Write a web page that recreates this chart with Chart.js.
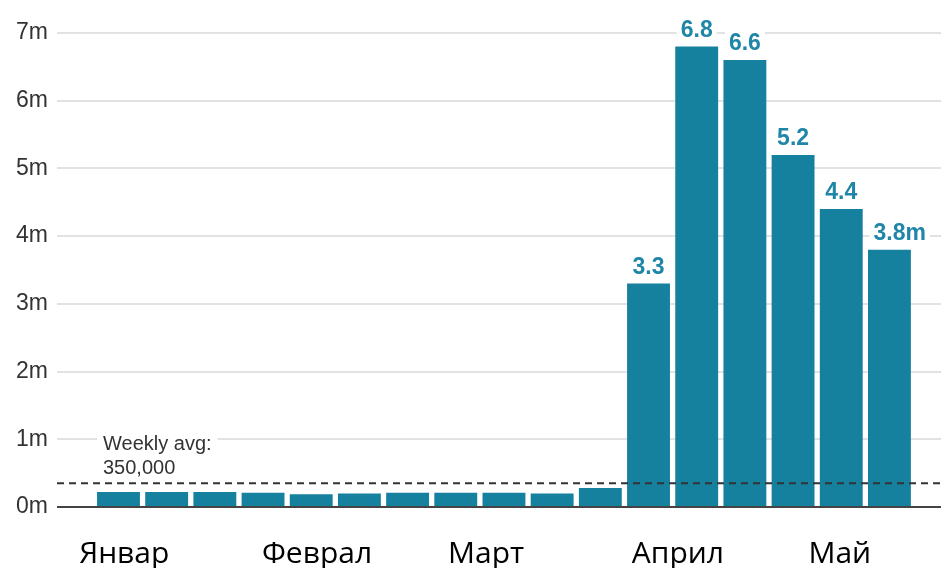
<!DOCTYPE html>
<html>
<head>
<meta charset="utf-8">
<script src="https://cdn.jsdelivr.net/npm/chart.js@4"></script>
<style>
  html, body { margin: 0; padding: 0; background: #fff; }
  #wrap { width: 941px; height: 568px; }
</style>
</head>
<body>
<div id="wrap"><canvas id="weeklyChart"></canvas></div>
<script>
// weekly values, millions
const weeks = [0, 1, 2, 3, 4, 5, 6, 7, 8, 9, 10, 11, 12, 13, 14, 15, 16];
const values = [0.22, 0.22, 0.22, 0.21, 0.19, 0.20, 0.21, 0.21, 0.21, 0.20, 0.28, 3.3, 6.8, 6.6, 5.2, 4.4, 3.8];
const labelFrom = 11; // bars that get a value label
const weeklyAvg = 0.35;
const avgText = ['Weekly avg:', '350,000'];
const yTicks = [0, 1, 2, 3, 4, 5, 6, 7];
const monthLabels = ['Январ', 'Феврал', 'Март', 'Април', 'Май'];
const monthAt = [0.12, 4.12, 7.63, 11.61, 14.97];

const BAR = '#16809f';
const LABEL = '#2086a8';

// dashed average line, its note, and value labels over the bars
const overlay = {
  id: 'overlay',
  afterDatasetsDraw(chart) {
    const ctx = chart.ctx;
    const area = chart.chartArea;
    const y = chart.scales.y;
    const meta = chart.getDatasetMeta(0);

    ctx.save();
    const ay = y.getPixelForValue(weeklyAvg);
    ctx.strokeStyle = '#333';
    ctx.lineWidth = 2;
    ctx.setLineDash([7, 5]);
    ctx.beginPath();
    ctx.moveTo(area.left, ay);
    ctx.lineTo(area.right, ay);
    ctx.stroke();
    ctx.setLineDash([]);

    // note above the line
    ctx.font = '20px "Liberation Sans", Arial, sans-serif';
    ctx.textBaseline = 'alphabetic';
    ctx.textAlign = 'left';
    const nx = area.left + 46;
    const w0 = ctx.measureText(avgText[0]).width;
    ctx.fillStyle = '#fff';
    ctx.fillRect(nx - 6, ay - 54, w0 + 12, 24);
    ctx.fillStyle = '#333';
    ctx.fillText(avgText[0], nx, ay - 33);
    ctx.fillText(avgText[1], nx, ay - 9);

    // value labels
    ctx.font = 'bold 23px "Liberation Sans", Arial, sans-serif';
    meta.data.forEach((bar, i) => {
      if (i < labelFrom) return;
      const num = values[i].toFixed(1);
      const unit = i === values.length - 1 ? 'm' : '';
      const wn = ctx.measureText(num).width;
      const wt = ctx.measureText(num + unit).width;
      const x0 = bar.x - wn / 2;
      const by = bar.y - 10;
      ctx.fillStyle = '#fff';
      ctx.fillRect(x0 - 4, by - 19, wt + 8, 21);
      ctx.fillStyle = LABEL;
      ctx.fillText(num + unit, x0, by);
    });
    ctx.restore();
  }
};

const ctx = document.getElementById('weeklyChart').getContext('2d');
new Chart(ctx, {
  type: 'bar',
  data: {
    datasets: [{
      data: weeks.map((w, i) => ({ x: w, y: values[i] })),
      backgroundColor: BAR,
      borderWidth: 0,
      barPercentage: 0.89,
      categoryPercentage: 1.0
    }]
  },
  options: {
    responsive: true,
    maintainAspectRatio: false,
    animation: false,
    layout: { padding: { top: 33, left: 0, right: 0, bottom: 0 } },
    plugins: {
      legend: { display: false },
      tooltip: { enabled: false }
    },
    scales: {
      x: {
        type: 'linear',
        offset: false,
        min: -1.276,
        max: 17.07,
        afterFit: function(scale) { scale.height = 61; },
        afterBuildTicks: function(scale) {
          scale.ticks = monthAt.map(v => ({ value: v }));
        },
        ticks: {
          autoSkip: false,
          maxRotation: 0,
          padding: 29,
          color: '#000',
          font: { family: '"Open Sans", "Noto Sans", sans-serif', size: 30 },
          callback: function(value, index) { return monthLabels[index]; }
        },
        grid: { display: false, drawTicks: false },
        border: { display: false }
      },
      y: {
        min: 0,
        max: 7,
        afterFit: function(scale) { scale.width = 57; },
        afterBuildTicks: function(scale) {
          scale.ticks = yTicks.map(v => ({ value: v }));
        },
        ticks: {
          padding: 9,
          color: '#333',
          font: { family: '"Liberation Sans", Arial, sans-serif', size: 23 },
          callback: function(value) { return value + 'm'; }
        },
        grid: {
          drawTicks: false,
          color: function(c) { return c.tick && c.tick.value === 0 ? '#444' : '#e2e2e2'; },
          lineWidth: 2
        },
        border: { display: false }
      }
    }
  },
  plugins: [overlay]
});
</script>
</body>
</html>
